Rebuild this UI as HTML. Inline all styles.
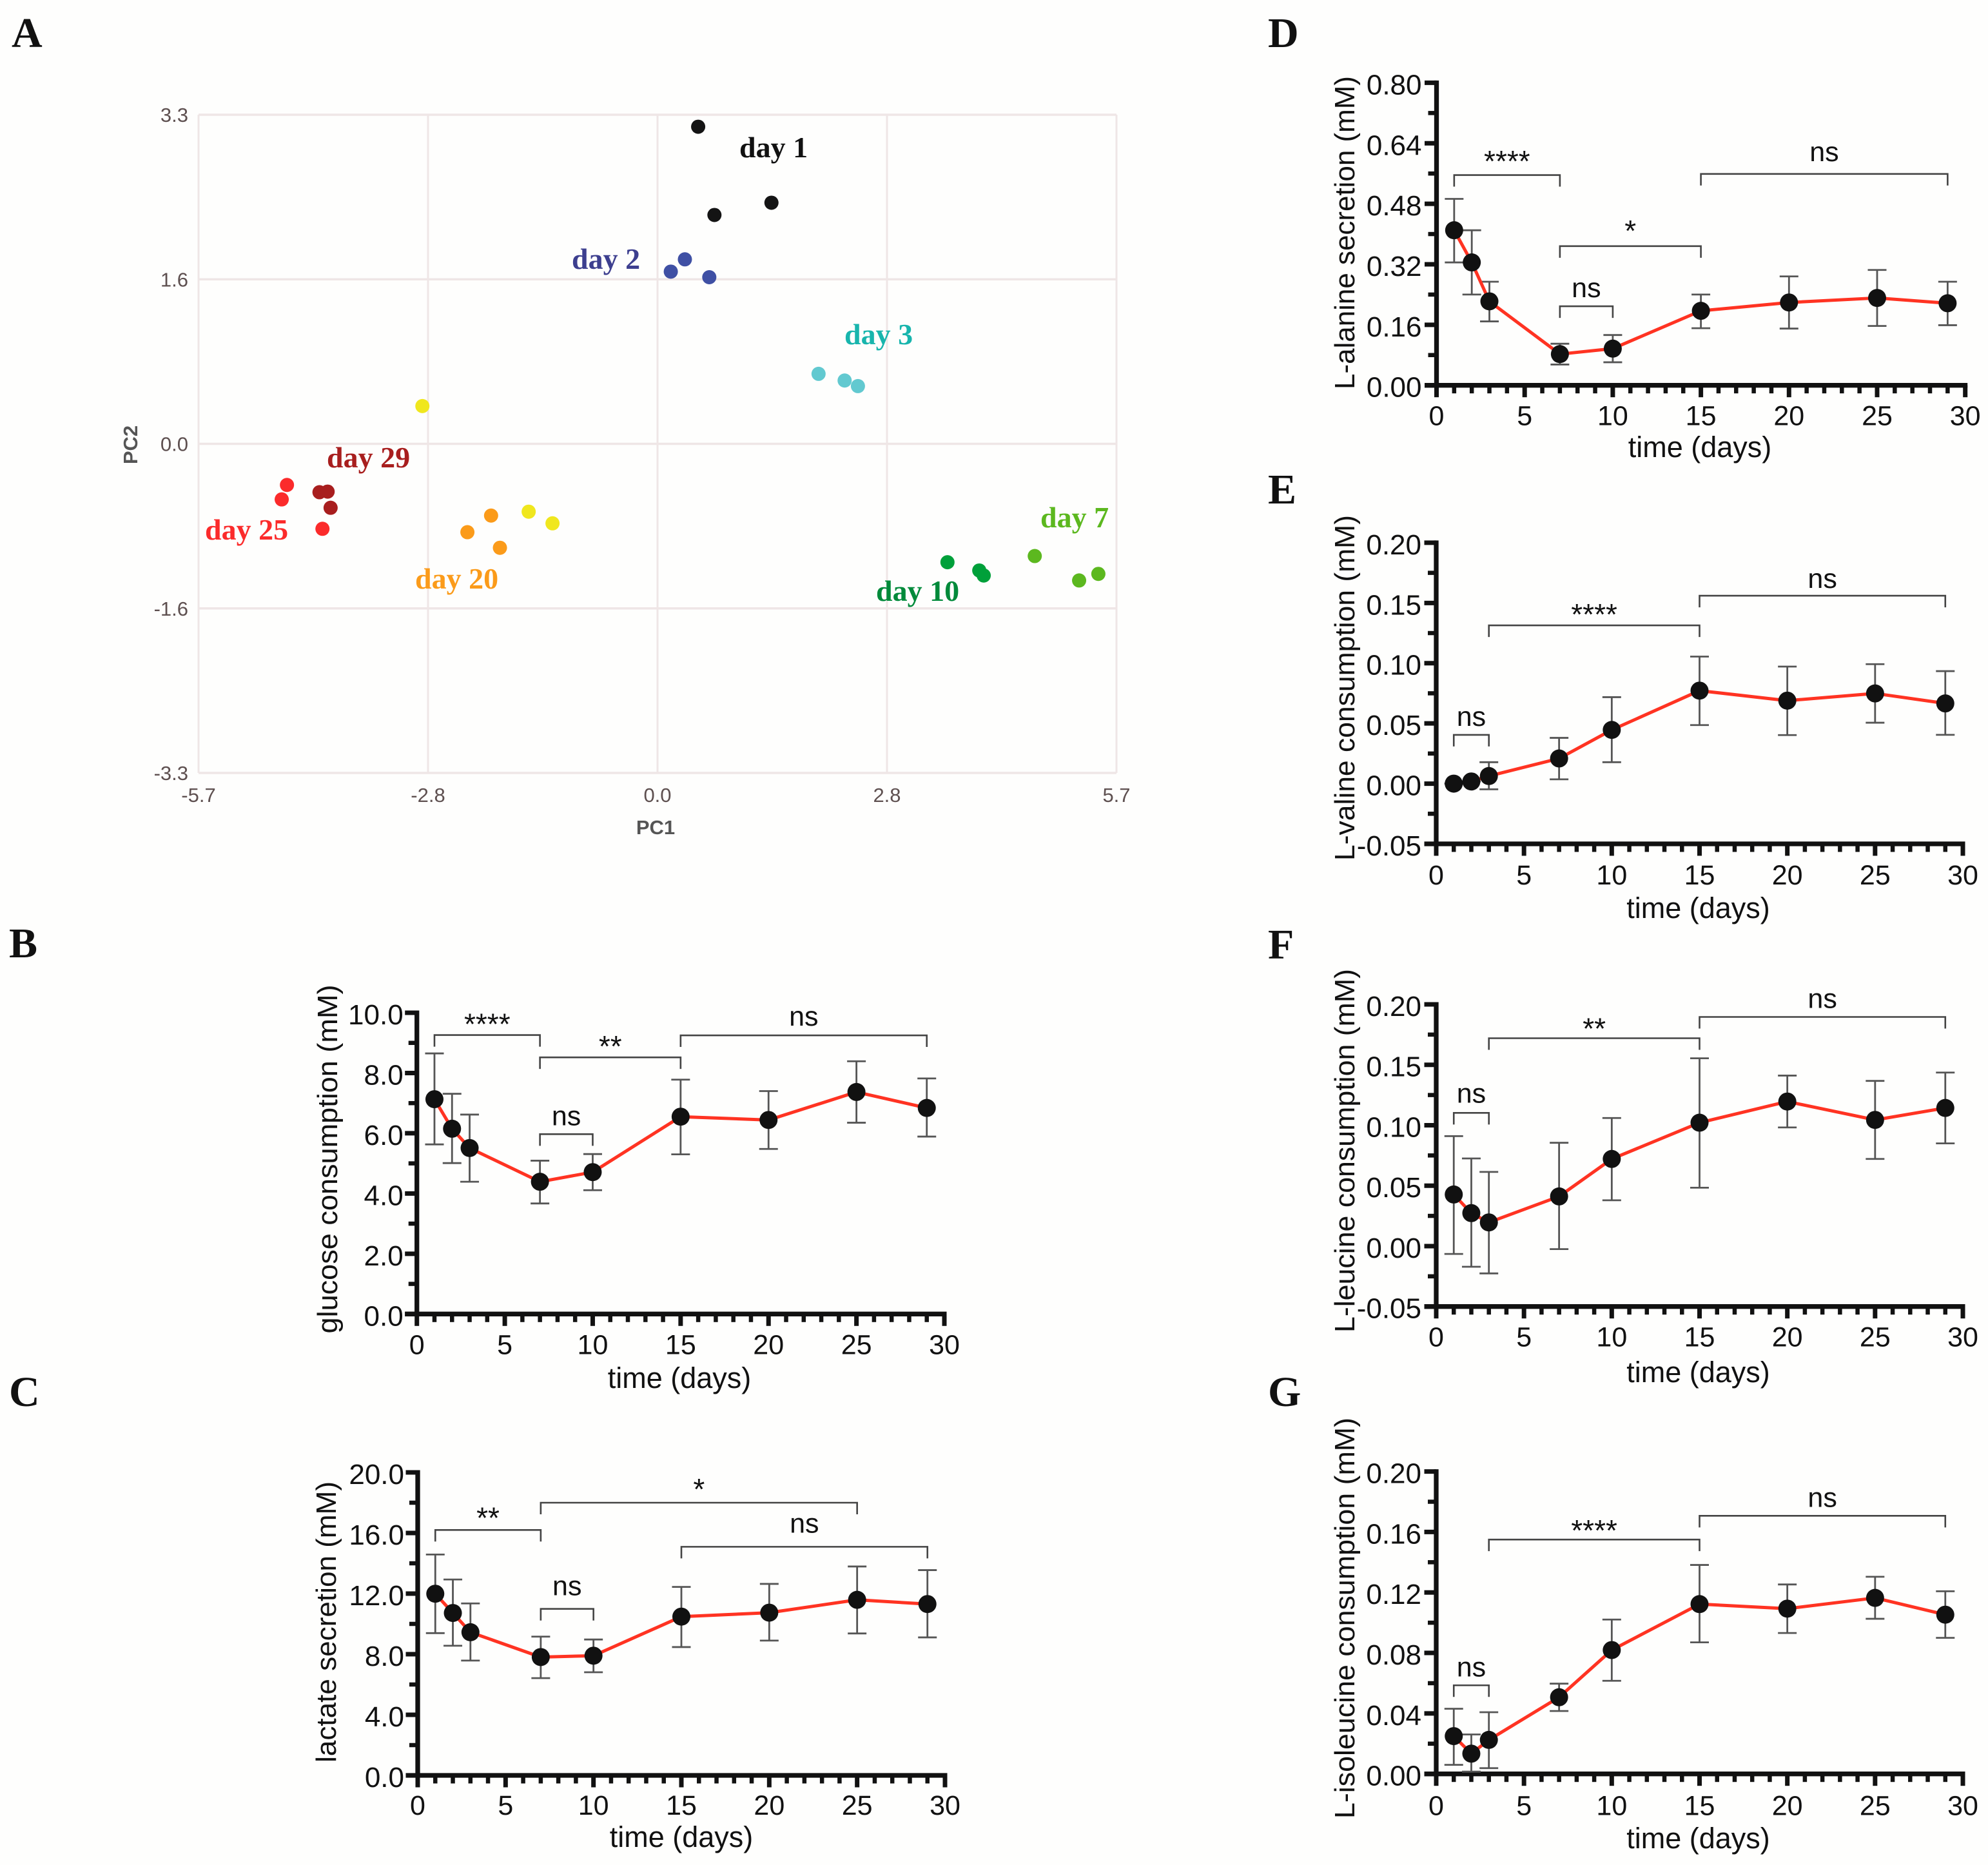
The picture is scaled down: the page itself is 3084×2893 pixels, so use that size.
<!DOCTYPE html>
<html lang="en">
<head>
<meta charset="utf-8">
<title>Time course figure</title>
<style>
html,body{margin:0;padding:0;background:#fefefd;}
svg{display:block;}
text{font-family:"Liberation Sans",Arial,sans-serif;fill:#111;}
.letter{font-family:"Liberation Serif",serif;font-weight:bold;font-size:66px;}
.daylabel{font-family:"Liberation Serif",serif;font-weight:bold;font-size:46px;}
</style>
</head>
<body>
<svg id="fig" xmlns="http://www.w3.org/2000/svg" width="3084" height="2893" viewBox="0 0 3084 2893">
<rect x="0" y="0" width="3084" height="2893" fill="#fefefd"/>
<text class="letter" x="18" y="73">A</text>
<text class="letter" x="14" y="1485">B</text>
<text class="letter" x="14" y="2181">C</text>
<text class="letter" x="1967" y="73">D</text>
<text class="letter" x="1967" y="781">E</text>
<text class="letter" x="1967" y="1487">F</text>
<text class="letter" x="1967" y="2181">G</text>
</svg>
<script>
/* ---------- Panel A data (PCA scores) ---------- */
const pcaXTicks = ['-5.7','-2.8','0.0','2.8','5.7'];
const pcaXTickValues = [-5.7,-2.85,0,2.85,5.7];
const pcaYTicks = ['3.3','1.6','0.0','-1.6','-3.3'];
const pcaYTickValues = [3.3,1.65,0,-1.65,-3.3];
const day1PC1 = [0.505,0.707,1.415];
const day1PC2 = [3.18,2.295,2.418];
const day2PC1 = [0.165,0.34,0.643];
const day2PC2 = [1.727,1.85,1.671];
const day3PC1 = [2.0,2.324,2.489];
const day3PC2 = [0.702,0.635,0.579];
const day7PC1 = [4.685,5.236,5.475];
const day7PC2 = [-1.125,-1.37,-1.304];
const day10PC1 = [3.601,3.996,4.051];
const day10PC2 = [-1.187,-1.27,-1.32];
const day15PC1 = [-2.92,-1.6,-1.304];
const day15PC2 = [0.379,-0.68,-0.797];
const day20PC1 = [-2.361,-2.067,-1.957];
const day20PC2 = [-0.886,-0.719,-1.042];
const day25PC1 = [-4.602,-4.667,-4.161];
const day25PC2 = [-0.412,-0.557,-0.852];
const day29PC1 = [-4.198,-4.097,-4.06];
const day29PC2 = [-0.485,-0.479,-0.641];

/* ---------- Time-course data ---------- */
const days = [1,2,3,7,10,15,20,25,29];
const xTicks = [0,5,10,15,20,25,30];

const glucoseTicks = ['0.0','2.0','4.0','6.0','8.0','10.0'];
const glucoseMean = [7.13,6.15,5.51,4.39,4.71,6.55,6.44,7.37,6.84];
const glucoseHi = [8.65,7.31,6.62,5.09,5.31,7.78,7.40,8.39,7.82];
const glucoseLo = [5.63,5.01,4.39,3.67,4.11,5.30,5.48,6.35,5.89];
const glucoseBrackets = [[1,7,9.26,'****'],[7,15,8.52,'**'],[15,29,9.25,'ns'],[7,10,5.97,'ns']];

const lactateTicks = ['0.0','4.0','8.0','12.0','16.0','20.0'];
const lactateMean = [11.99,10.72,9.45,7.81,7.90,10.48,10.74,11.59,11.31];
const lactateHi = [14.58,12.93,11.35,9.16,8.97,12.44,12.64,13.79,13.55];
const lactateLo = [9.39,8.56,7.58,6.42,6.81,8.47,8.90,9.37,9.11];
const lactateBrackets = [[1,7,16.2,'**'],[7,25,18.0,'*'],[15,29,15.09,'ns'],[7,10,10.99,'ns']];

const alanineTicks = ['0.00','0.16','0.32','0.48','0.64','0.80'];
const alanineMean = [0.410,0.325,0.222,0.0825,0.097,0.197,0.219,0.231,0.217];
const alanineHi = [0.493,0.410,0.274,0.110,0.133,0.240,0.288,0.305,0.274];
const alanineLo = [0.325,0.240,0.169,0.055,0.061,0.151,0.150,0.157,0.159];
const alanineBrackets = [[1,7,0.556,'****'],[15,29,0.559,'ns'],[7,15,0.368,'*'],[7,10,0.209,'ns']];

const valineTicks = ['-0.05','0.00','0.05','0.10','0.15','0.20'];
const valineMean = [0,0.0018,0.0063,0.0209,0.0446,0.0772,0.0689,0.0749,0.0666];
const valineHi = [0,0.0018,0.0178,0.0380,0.0718,0.1055,0.0972,0.0992,0.0934];
const valineLo = [0,0.0018,-0.0047,0.0036,0.0178,0.0486,0.0403,0.0506,0.0405];
const valineBrackets = [[1,3,0.0405,'ns'],[3,15,0.1314,'****'],[15,29,0.156,'ns']];

const leucineTicks = ['-0.05','0.00','0.05','0.10','0.15','0.20'];
const leucineMean = [0.0427,0.0273,0.0196,0.0411,0.0721,0.1021,0.1196,0.1044,0.1143];
const leucineHi = [0.091,0.0725,0.0614,0.0855,0.106,0.1554,0.1411,0.1367,0.1436];
const leucineLo = [-0.0065,-0.0171,-0.0226,-0.0025,0.0379,0.0483,0.0982,0.0721,0.085];
const leucineBrackets = [[1,3,0.1102,'ns'],[3,15,0.172,'**'],[15,29,0.1896,'ns']];

const isoleucineTicks = ['0.00','0.04','0.08','0.12','0.16','0.20'];
const isoleucineMean = [0.025,0.0134,0.0225,0.0507,0.0819,0.1123,0.1093,0.1164,0.1053];
const isoleucineHi = [0.0431,0.0261,0.0408,0.0597,0.1021,0.1382,0.1253,0.1304,0.1208];
const isoleucineLo = [0.006,0.0015,0.0038,0.0416,0.0616,0.087,0.0932,0.1026,0.09];
const isoleucineBrackets = [[1,3,0.0586,'ns'],[3,15,0.155,'****'],[15,29,0.1707,'ns']];

/* ---------- Drawing helpers ---------- */
const svg = document.getElementById('fig');
const NS = 'http://www.w3.org/2000/svg';
function mk(tag, attrs, parent, txt) {
  const n = document.createElementNS(NS, tag);
  for (const k in attrs) n.setAttribute(k, attrs[k]);
  if (txt !== undefined) n.textContent = txt;
  (parent || svg).appendChild(n);
  return n;
}
function linear(d0, d1, r0, r1) {
  return v => r0 + (v - d0) * (r1 - r0) / (d1 - d0);
}

/* ---------- Panel A ---------- */
(function drawPca() {
  const L = 308, R = 1732, T = 178, B = 1199;
  const sx = linear(-5.7, 5.7, L, R);
  const sy = linear(3.3, -3.3, T, B);
  const g = mk('g', {});
  
  
  pcaXTicks.forEach((t, i) => {
    const v = pcaXTickValues[i];
    const grid = mk('line', {x1:sx(v), x2:sx(v), y1:T, y2:B, stroke:'#efe6e6', 'stroke-width':3}, g);
    
    
    const lab = mk('text', {x:sx(v), y:1244, 'text-anchor':'middle', 'font-size':31, style:'fill:#5e5050'}, g, t);
    
    
  });
  pcaYTicks.forEach((t, i) => {
    const v = pcaYTickValues[i];
    const grid = mk('line', {x1:L, x2:R, y1:sy(v), y2:sy(v), stroke:'#efe6e6', 'stroke-width':3.5}, g);
    
    
    const lab = mk('text', {x:292, y:sy(v)+11, 'text-anchor':'end', 'font-size':31, style:'fill:#5e5050'}, g, t);
    
    
  });
  const xt = mk('text', {x:1017, y:1294, 'text-anchor':'middle', 'font-size':31, 'font-weight':'bold', style:'fill:#555'}, g, 'PC1');
  
  
  const yt = mk('text', {transform:'translate(213,690) rotate(-90)', 'text-anchor':'middle', 'font-size':31, 'font-weight':'bold', style:'fill:#555'}, g, 'PC2');
  
  

  const groups = [
    ['day-1', day1PC1, day1PC2, '#141414'],
    ['day-2', day2PC1, day2PC2, '#3f50a4'],
    ['day-3', day3PC1, day3PC2, '#62c9d0'],
    ['day-7', day7PC1, day7PC2, '#5cb81f'],
    ['day-10', day10PC1, day10PC2, '#00a03a'],
    ['day-15', day15PC1, day15PC2, '#f0e71e'],
    ['day-20', day20PC1, day20PC2, '#fb9b1a'],
    ['day-25', day25PC1, day25PC2, '#fb2b2b'],
    ['day-29', day29PC1, day29PC2, '#a81e1e']
  ];
  groups.forEach(gr => {
    gr[1].forEach((x, i) => {
      const c = mk('circle', {cx:sx(x), cy:sy(gr[2][i]), r:11, fill:gr[3]}, g);
      
      
    });
  });
  const labels = [
    ['day 1', 1147, 244, '#111111'],
    ['day 2', 887, 417, '#3d3f8f'],
    ['day 3', 1310, 534, '#18b5ad'],
    ['day 29', 507, 725, '#a81e1e'],
    ['day 25', 318, 837, '#fb2b2b'],
    ['day 20', 644, 913, '#fb9b1a'],
    ['day 10', 1359, 932, '#008a3a'],
    ['day 7', 1614, 818, '#5cb81f']
  ];
  labels.forEach(l => {
    const t = mk('text', {x:l[1], y:l[2], class:'daylabel', style:'fill:' + l[3]}, g, l[0]);
    
    
  });
})();

/* ---------- Time-course panels ---------- */
function drawPanel(p) {
  const g = mk('g', {});
  
  
  const yVals = p.ticks.map(parseFloat);
  const yMin = yVals[0], yMax = yVals[yVals.length - 1];
  const sx = linear(0, 30, p.x0, p.x1);
  const sy = linear(yMin, yMax, p.yb, p.yt);

  // minor x ticks
  for (let d = 0; d <= 30; d++) {
    if (d % 5 === 0) continue;
    const m = mk('line', {x1:sx(d), x2:sx(d), y1:p.yb, y2:p.yb+12.5, stroke:'#111', 'stroke-width':6.5}, g);
    
    
  }
  // major x ticks
  xTicks.forEach(d => {
    const m = mk('line', {x1:sx(d), x2:sx(d), y1:p.yb, y2:p.yb+18.5, stroke:'#111', 'stroke-width':7}, g);
    
    
    const t = mk('text', {x:sx(d), y:p.yb+p.xLabelGap, 'text-anchor':'middle', 'font-size':43}, g, String(d));
    
    
  });
  // y ticks
  yVals.forEach((v, i) => {
    const y = sy(v);
    const m = mk('line', {x1:p.x0-18.5, x2:p.x0, y1:y, y2:y, stroke:'#111', 'stroke-width':7}, g);
    
    
    const t = mk('text', {x:p.x0-p.yLabelGap, y:y+18, 'text-anchor':'end', 'font-size':44}, g, p.ticks[i]);
    
    
    if (i < yVals.length - 1) {
      const ym = sy((v + yVals[i+1]) / 2);
      const n = mk('line', {x1:p.x0-13, x2:p.x0, y1:ym, y2:ym, stroke:'#111', 'stroke-width':6.5}, g);
      
      
    }
  });
  // axes
  const ya = mk('line', {x1:p.x0, x2:p.x0, y1:p.yt-3.5, y2:p.yb+3.5, stroke:'#111', 'stroke-width':7.3}, g);
  
  
  const xa = mk('line', {x1:p.x0-18.5, x2:p.x1+3.5, y1:p.yb, y2:p.yb, stroke:'#111', 'stroke-width':7.3}, g);
  
  
  // titles
  const xt = mk('text', {x:p.xTitleX, y:p.xTitleY, 'text-anchor':'middle', 'font-size':45}, g, 'time (days)');
  
  
  const yt = mk('text', {transform:'translate(' + p.yTitleX + ',' + p.yTitleY + ') rotate(-90)', 'text-anchor':'middle', 'font-size':44, textLength:p.yTitleLen, lengthAdjust:'spacingAndGlyphs'}, g, p.title);
  
  
  // brackets
  p.brackets.forEach((b, i) => {
    const xa2 = sx(b[0]), xb2 = sx(b[1]), y = sy(b[2]);
    const br = mk('path', {d:'M' + xa2 + ' ' + (y+18) + 'V' + y + 'H' + xb2 + 'V' + (y+18), fill:'none', stroke:'#444', 'stroke-width':2.6}, g);
    
    
    const isNs = b[3] === 'ns';
    const ty = isNs ? y - p.lifts[i] : y - p.lifts[i] + 24;
    const t = mk('text', {x:(xa2+xb2)/2, y:ty, 'text-anchor':'middle', 'font-size':isNs ? 43 : 46}, g, b[3]);
    
    
  });
  // error bars
  days.forEach((d, i) => {
    const x = sx(d), h = sy(p.hi[i]), l = sy(p.lo[i]);
    const eb = mk('path', {d:'M' + (x-14.5) + ' ' + h + 'H' + (x+14.5) + 'M' + x + ' ' + h + 'V' + l + 'M' + (x-14.5) + ' ' + l + 'H' + (x+14.5), fill:'none', stroke:'#555', 'stroke-width':2.8}, g);
    
    
  });
  // line
  const pts = days.map((d, i) => sx(d) + ',' + sy(p.mean[i])).join(' ');
  const ln = mk('polyline', {points:pts, fill:'none', stroke:'#ff3322', 'stroke-width':5, 'stroke-linejoin':'round'}, g);
  
  
  // markers
  days.forEach((d, i) => {
    const c = mk('circle', {cx:sx(d), cy:sy(p.mean[i]), r:14, fill:'#111'}, g);
    
    
  });
}

drawPanel({name:'glucose', title:'glucose consumption (mM)', ticks:glucoseTicks, mean:glucoseMean, hi:glucoseHi, lo:glucoseLo, brackets:glucoseBrackets, lifts:[25,25,15,14],
  x0:646.7, x1:1465, yt:1571, yb:2038.3, xLabelGap:62, yLabelGap:21, xTitleX:1054, xTitleY:2153, yTitleX:523, yTitleY:1798, yTitleLen:541});
drawPanel({name:'lactate', title:'lactate secretion (mM)', ticks:lactateTicks, mean:lactateMean, hi:lactateHi, lo:lactateLo, brackets:lactateBrackets, lifts:[27,29,22,21],
  x0:648, x1:1466, yt:2284, yb:2754, xLabelGap:61, yLabelGap:21, xTitleX:1057, xTitleY:2865, yTitleX:521, yTitleY:2516, yTitleLen:436});
drawPanel({name:'alanine', title:'L-alanine secretion (mM)', ticks:alanineTicks, mean:alanineMean, hi:alanineHi, lo:alanineLo, brackets:alanineBrackets, lifts:[29.5,20,32,14],
  x0:2228.5, x1:3048.7, yt:128.4, yb:597.7, xLabelGap:62, yLabelGap:23, xTitleX:2637, xTitleY:709, yTitleX:2101, yTitleY:361, yTitleLen:486});
drawPanel({name:'valine', title:'L-valine consumption (mM)', ticks:valineTicks, mean:valineMean, hi:valineHi, lo:valineLo, brackets:valineBrackets, lifts:[14,25,12],
  x0:2228, x1:3045, yt:841.9, yb:1309, xLabelGap:63, yLabelGap:23, xTitleX:2634.5, xTitleY:1424, yTitleX:2101, yTitleY:1067, yTitleLen:536});
drawPanel({name:'leucine', title:'L-leucine consumption (mM)', ticks:leucineTicks, mean:leucineMean, hi:leucineHi, lo:leucineLo, brackets:leucineBrackets, lifts:[16,23,14],
  x0:2228, x1:3045, yt:1558, yb:2026.7, xLabelGap:62, yLabelGap:23, xTitleX:2634.5, xTitleY:2144, yTitleX:2101, yTitleY:1785, yTitleLen:564});
drawPanel({name:'isoleucine', title:'L-isoleucine consumption (mM)', ticks:isoleucineTicks, mean:isoleucineMean, hi:isoleucineHi, lo:isoleucineLo, brackets:isoleucineBrackets, lifts:[14,22,14],
  x0:2228, x1:3045, yt:2282.6, yb:2751.7, xLabelGap:64, yLabelGap:23, xTitleX:2634.5, xTitleY:2867, yTitleX:2101, yTitleY:2510, yTitleLen:622});
</script>
</body>
</html>
